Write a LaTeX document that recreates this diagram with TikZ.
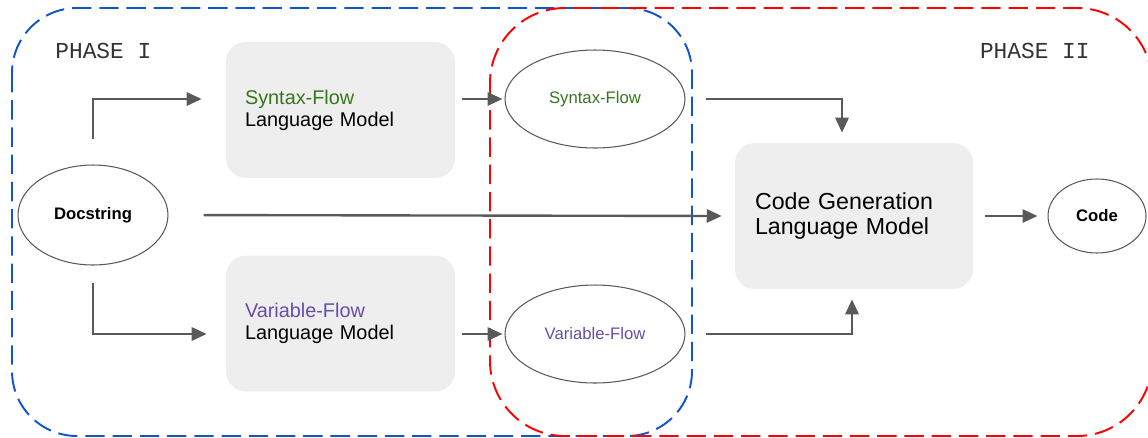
\documentclass[tikz,border=0pt]{standalone}
\usepackage{fontspec}
\setmainfont{Liberation Sans}
\setmonofont{Liberation Mono}
\usetikzlibrary{arrows.meta,shapes.geometric,positioning}
\definecolor{flowgray}{HTML}{595959}
\definecolor{boxgray}{HTML}{EEEEEE}
\definecolor{syngreen}{HTML}{38761D}
\definecolor{varpurple}{HTML}{674EA7}
\definecolor{phaseblue}{HTML}{1155CC}

\begin{document}
\begin{tikzpicture}[x=0.02cm,y=-0.02cm,>={Triangle[length=8.5pt,width=7.5pt]}]
  \tikzstyle{model}=[fill=boxgray,draw=none,rounded corners=0.4cm,align=left,inner xsep=0.38cm,text width=3.82cm,minimum height=2.72cm,font=\fontsize{11.3}{12.5}\selectfont]
  \tikzstyle{io}=[ellipse,draw=flowgray,line width=0.6pt,inner sep=0pt,font=\fontsize{9.5}{11}\selectfont]
  \tikzstyle{phase}=[inner sep=0pt,text=black!80,font=\ttfamily\fontsize{13}{15}\selectfont]
  \tikzstyle{region}=[line width=1.1pt,dash pattern=on 11pt off 4.5pt]
  \tikzstyle{link}=[->,draw=flowgray,line width=1.35pt]

  \useasboundingbox (0,0) rectangle (1148,437);

  % the two phases
  \draw[region,phaseblue,rounded corners=1.3cm] (12,8) rectangle (692,436);
  \draw[region,red,rounded corners=1.5cm] (490,8) rectangle (1152,436);
  \node[phase,anchor=west] (ph1) at (55,51) {PHASE I};
  \node[phase,anchor=east] (ph2) at (1090,51) {PHASE II};

  \node[io,minimum width=3cm,minimum height=2cm,font=\bfseries\fontsize{9.5}{11}\selectfont] (doc) at (93,215) {Docstring};
  \node[model] (synlm) at (340.5,110) {\textcolor{syngreen}{Syntax-Flow}\\Language Model};
  \node[model] (varlm) at (340.5,323.5) {\textcolor{varpurple}{Variable-Flow}\\Language Model};
  \node[io,minimum width=3.6cm,minimum height=1.96cm,text=syngreen] (syn) at (595,99) {Syntax-Flow};
  \node[io,minimum width=3.6cm,minimum height=1.96cm,text=varpurple] (var) at (595,334) {Variable-Flow};
  \node[model,text width=3.96cm,inner xsep=0.4cm,minimum height=2.92cm,font=\fontsize{13.2}{14.4}\selectfont] (gen) at (854,216) {Code Generation\\Language Model};
  \node[io,minimum width=1.96cm,minimum height=1.48cm,font=\bfseries\fontsize{9.5}{11}\selectfont] (code) at (1097,216) {Code};

  \draw[link,shorten >=0.48cm] (doc.north) ++(0,-25) |- (synlm.west |- syn.west);
  \draw[link,shorten >=0.38cm] (doc.south) ++(0,17) |- (varlm.west |- var.west);
  \draw[link,shorten <=0.7cm,shorten >=0.26cm] (doc.east) -- (gen.west);
  \draw[link,shorten <=0.14cm,shorten >=0.04cm] (synlm.east |- syn.west) -- (syn.west);
  \draw[link,shorten <=0.14cm,shorten >=0.04cm] (varlm.east |- var.west) -- (var.west);
  \draw[link,shorten <=0.4cm,shorten >=0.2cm] (syn.east) -| ([xshift=-0.24cm]gen.north);
  \draw[link,shorten <=0.4cm,shorten >=0.2cm] (var.east) -| ([xshift=-0.04cm]gen.south);
  \draw[link,shorten <=0.24cm,shorten >=0.2cm] (gen.east) -- (code.west);
\end{tikzpicture}
\end{document}
